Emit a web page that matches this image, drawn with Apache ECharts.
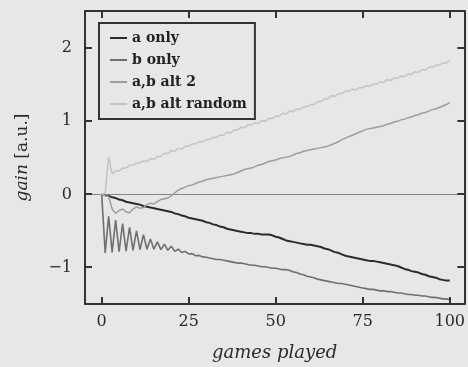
<!DOCTYPE html>
<html>
<head>
<meta charset="utf-8">
<script src="https://cdn.jsdelivr.net/npm/echarts@6/dist/echarts.min.js"></script>
<style>
html,body{margin:0;padding:0;background:#e7e7e7;}
#c{width:468px;height:367px;}
</style>
</head>
<body>
<div id="c"></div>
<script>
// ---- data ----
const seriesNames = ['a only', 'b only', 'a,b alt 2', 'a,b alt random'];
const xTicks = [0, 25, 50, 75, 100];
const yTicks = [-1, 0, 1, 2];

const aOnly = [
  0, -0.01, -0.02, -0.04, -0.05, -0.07, -0.08, -0.10, -0.11, -0.12,
  -0.13, -0.14, -0.16, -0.17, -0.18, -0.19, -0.20, -0.21, -0.22, -0.23,
  -0.24, -0.26, -0.27, -0.29, -0.30, -0.32, -0.33, -0.34, -0.35, -0.36,
  -0.38, -0.39, -0.41, -0.42, -0.44, -0.45, -0.47, -0.48, -0.49, -0.50,
  -0.51, -0.52, -0.53, -0.53, -0.54, -0.54, -0.55, -0.55, -0.55, -0.56,
  -0.58, -0.59, -0.61, -0.63, -0.64, -0.65, -0.66, -0.67, -0.68, -0.69,
  -0.69, -0.70, -0.71, -0.72, -0.74, -0.75, -0.77, -0.79, -0.80, -0.82,
  -0.84, -0.85, -0.86, -0.87, -0.88, -0.89, -0.90, -0.91, -0.91, -0.92,
  -0.93, -0.94, -0.95, -0.96, -0.97, -0.98, -1.00, -1.02, -1.03, -1.05,
  -1.06, -1.07, -1.09, -1.10, -1.12, -1.13, -1.14, -1.16, -1.17, -1.18,
  -1.18
];
const bOnly = [
  0, -0.80, -0.30, -0.795, -0.35, -0.785, -0.40, -0.775, -0.45, -0.765,
  -0.50, -0.755, -0.55, -0.75, -0.61, -0.75, -0.65, -0.755, -0.68, -0.765,
  -0.71, -0.78, -0.75, -0.795, -0.78, -0.815, -0.81, -0.84, -0.835, -0.855,
  -0.86, -0.87, -0.88, -0.89, -0.89, -0.90, -0.91, -0.92, -0.93, -0.94,
  -0.94, -0.95, -0.96, -0.97, -0.97, -0.98, -0.99, -0.99, -1.00, -1.01,
  -1.01, -1.02, -1.03, -1.03, -1.04, -1.06, -1.07, -1.09, -1.10, -1.12,
  -1.13, -1.14, -1.16, -1.17, -1.18, -1.19, -1.20, -1.21, -1.22, -1.22,
  -1.23, -1.24, -1.25, -1.26, -1.27, -1.28, -1.29, -1.30, -1.30, -1.31,
  -1.32, -1.32, -1.33, -1.33, -1.34, -1.35, -1.35, -1.36, -1.37, -1.37,
  -1.38, -1.38, -1.39, -1.39, -1.40, -1.41, -1.41, -1.42, -1.43, -1.43,
  -1.44
];
const abAlt2 = [
  0, -0.02, -0.03, -0.20, -0.26, -0.22, -0.20, -0.24, -0.25, -0.20,
  -0.17, -0.19, -0.18, -0.14, -0.12, -0.13, -0.10, -0.07, -0.06, -0.05,
  -0.02, 0.02, 0.06, 0.08, 0.10, 0.12, 0.13, 0.15, 0.17, 0.18,
  0.20, 0.21, 0.22, 0.23, 0.24, 0.25, 0.26, 0.27, 0.28, 0.30,
  0.32, 0.34, 0.35, 0.36, 0.38, 0.40, 0.41, 0.43, 0.45, 0.46,
  0.47, 0.49, 0.50, 0.51, 0.52, 0.54, 0.56, 0.57, 0.59, 0.60,
  0.61, 0.62, 0.63, 0.64, 0.65, 0.66, 0.68, 0.70, 0.72, 0.75,
  0.77, 0.79, 0.81, 0.83, 0.85, 0.87, 0.89, 0.90, 0.91, 0.92,
  0.93, 0.94, 0.96, 0.97, 0.99, 1.00, 1.02, 1.03, 1.05, 1.06,
  1.08, 1.09, 1.11, 1.12, 1.14, 1.16, 1.17, 1.19, 1.21, 1.23,
  1.26
];
const abAltRandom = [
  0, 0.02, 0.51, 0.28, 0.32, 0.32, 0.36, 0.36, 0.40, 0.40,
  0.43, 0.43, 0.46, 0.45, 0.49, 0.48, 0.52, 0.52, 0.56, 0.56,
  0.60, 0.59, 0.63, 0.62, 0.66, 0.66, 0.69, 0.69, 0.72, 0.72,
  0.75, 0.75, 0.78, 0.78, 0.81, 0.81, 0.85, 0.84, 0.88, 0.88,
  0.92, 0.91, 0.95, 0.95, 0.98, 0.97, 1.01, 1.00, 1.04, 1.04,
  1.07, 1.07, 1.11, 1.10, 1.14, 1.13, 1.17, 1.16, 1.20, 1.20,
  1.23, 1.23, 1.27, 1.27, 1.31, 1.31, 1.35, 1.34, 1.38, 1.38,
  1.41, 1.41, 1.44, 1.43, 1.46, 1.46, 1.49, 1.48, 1.51, 1.51,
  1.54, 1.53, 1.57, 1.56, 1.59, 1.59, 1.62, 1.61, 1.65, 1.64,
  1.68, 1.67, 1.71, 1.70, 1.74, 1.74, 1.77, 1.77, 1.80, 1.80,
  1.83
];
const games = aOnly.map((_, i) => i);

(function () {
  const SERIF = '"DejaVu Serif", "Liberation Serif", serif';
  const frameColor = '#333333';
  const textColor = '#2a2a2a';
  const colors = ['#2b2b2b', '#6f6f6f', '#9d9d9d', '#c3c3c3'];
  const widths = [2, 1.6, 1.5, 1.5];
  const allValues = [aOnly, bOnly, abAlt2, abAltRandom];
  const X_MIN = -4.8, X_MAX = 104.2, Y_MIN = -1.5, Y_MAX = 2.51;
  const TICK_LEN = 7;

  const chart = echarts.init(document.getElementById('c'), null, {renderer: 'canvas'});

  function pairs(vals) { return games.map((g, i) => [g, vals[i]]); }

  const series = seriesNames.map((name, k) => ({
    name: name,
    type: 'line',
    data: pairs(allValues[k]),
    showSymbol: false,
    symbol: 'none',
    lineStyle: {color: colors[k], width: widths[k]},
    itemStyle: {color: colors[k]},
    z: 3 + k,
    silent: true,
    animation: false
  }));
  series[0].markLine = {
    silent: true, symbol: 'none', label: {show: false},
    lineStyle: {color: '#858585', width: 1.2, type: 'solid'},
    data: [{yAxis: 0}],
    animation: false
  };

  const minus = v => String(v).replace('-', '\u2212');
  function aline() { return {show: true, onZero: false, lineStyle: {color: frameColor, width: 2}}; }

  chart.setOption({
    backgroundColor: '#e7e7e7',
    animation: false,
    grid: {left: 85, right: 3, top: 11, bottom: 63, show: false},
    legend: {
      data: seriesNames.map((n, k) => ({name: n, icon: 'rect', itemStyle: {color: colors[k]}})),
      orient: 'vertical',
      left: 99, top: 23,
      padding: [8, 8, 8, 11],
      itemWidth: 17, itemHeight: 2, itemGap: 8,
      backgroundColor: '#e7e7e7',
      borderColor: frameColor, borderWidth: 2, borderRadius: 0,
      textStyle: {fontFamily: SERIF, fontWeight: 'bold', fontSize: 14, color: '#222'},
      selectedMode: false
    },
    xAxis: [{
      type: 'value', min: X_MIN, max: X_MAX, position: 'bottom',
      axisLine: aline(),
      splitLine: {show: false},
      axisTick: {show: false},
      axisLabel: {customValues: xTicks, fontFamily: SERIF, fontSize: 16, color: textColor, margin: 10},
      name: 'games played', nameLocation: 'middle', nameGap: 40,
      nameTextStyle: {fontFamily: SERIF, fontStyle: 'italic', fontSize: 18, color: textColor}
    }, {
      type: 'value', min: X_MIN, max: X_MAX, position: 'top',
      axisLine: aline(), splitLine: {show: false},
      axisTick: {show: false}, axisLabel: {show: false}
    }],
    yAxis: [{
      type: 'value', min: Y_MIN, max: Y_MAX, position: 'left',
      axisLine: aline(), splitLine: {show: false},
      axisTick: {show: false},
      axisLabel: {customValues: yTicks, fontFamily: SERIF, fontSize: 16, color: textColor, margin: 13, formatter: minus},
      name: '{i|gain} [a.u.]', nameLocation: 'middle', nameGap: 54,
      nameTextStyle: {fontFamily: SERIF, fontSize: 17, color: textColor,
        rich: {i: {fontFamily: SERIF, fontStyle: 'italic', fontSize: 17, color: textColor}}}
    }, {
      type: 'value', min: Y_MIN, max: Y_MAX, position: 'right',
      axisLine: aline(), splitLine: {show: false},
      axisTick: {show: false}, axisLabel: {show: false}
    }],
    series: series
  });

  // inward tick marks on all four sides, placed through the axes' own scales
  const gLeft = chart.convertToPixel({xAxisIndex: 0}, X_MIN);
  const gRight = chart.convertToPixel({xAxisIndex: 0}, X_MAX);
  const gTop = chart.convertToPixel({yAxisIndex: 0}, Y_MAX);
  const gBottom = chart.convertToPixel({yAxisIndex: 0}, Y_MIN);
  const tickStyle = {stroke: frameColor, lineWidth: 2};
  const marks = [];
  xTicks.forEach(v => {
    const px = Math.round(chart.convertToPixel({xAxisIndex: 0}, v));
    marks.push({type: 'line', shape: {x1: px, y1: gBottom, x2: px, y2: gBottom - TICK_LEN}, style: tickStyle, silent: true, z: 10});
    marks.push({type: 'line', shape: {x1: px, y1: gTop, x2: px, y2: gTop + TICK_LEN}, style: tickStyle, silent: true, z: 10});
  });
  yTicks.forEach(v => {
    const py = Math.round(chart.convertToPixel({yAxisIndex: 0}, v));
    marks.push({type: 'line', shape: {x1: gLeft, y1: py, x2: gLeft + TICK_LEN, y2: py}, style: tickStyle, silent: true, z: 10});
    marks.push({type: 'line', shape: {x1: gRight, y1: py, x2: gRight - TICK_LEN, y2: py}, style: tickStyle, silent: true, z: 10});
  });
  chart.setOption({graphic: {elements: marks}});
})();
</script>
</body>
</html>
